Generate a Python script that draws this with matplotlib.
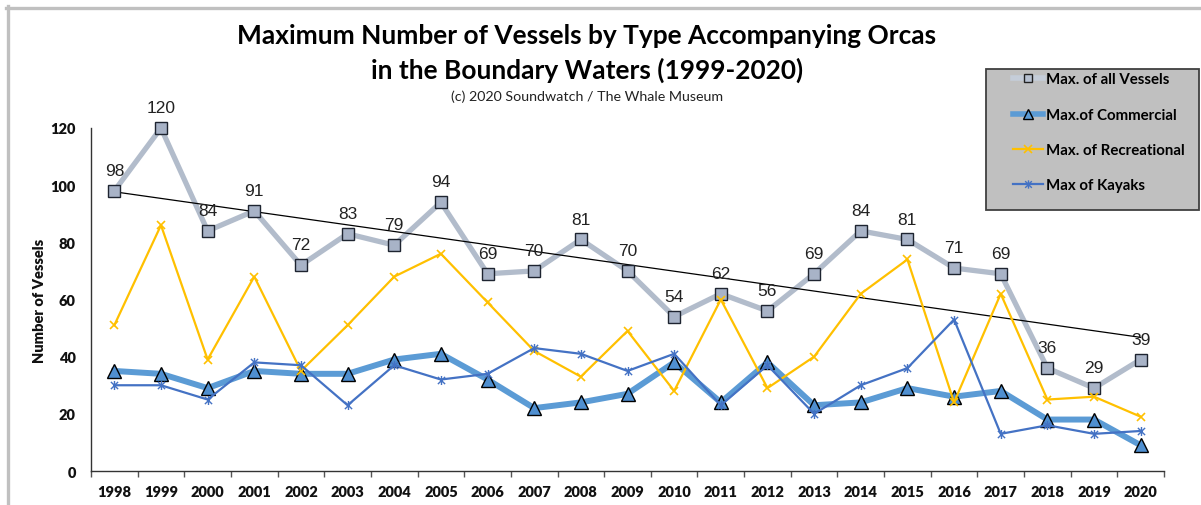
import numpy as np
import matplotlib
matplotlib.use('Agg')
import matplotlib.pyplot as plt
from matplotlib.path import Path
from matplotlib.lines import Line2D
from matplotlib.patches import Rectangle

years = [str(y) for y in range(1998, 2021)]
all_vessels = [98, 120, 84, 91, 72, 83, 79, 94, 69, 70, 81, 70, 54, 62, 56, 69, 84, 81, 71, 69, 36, 29, 39]
commercial = [35, 34, 29, 35, 34, 34, 39, 41, 32, 22, 24, 27, 38, 24, 38, 23, 24, 29, 26, 28, 18, 18, 9]
recreational = [51, 86, 39, 68, 35, 51, 68, 76, 59, 42, 33, 49, 28, 60, 29, 40, 62, 74, 24, 62, 25, 26, 19]
kayaks = [30, 30, 25, 38, 37, 23, 37, 32, 34, 43, 41, 35, 41, 23, 37, 20, 30, 36, 53, 13, 16, 13, 14]

labels = ['Max. of all Vessels', 'Max.of Commercial', 'Max. of Recreational', 'Max of Kayaks']

calibri = ['Lato', 'DejaVu Sans']
W, H = 1201, 506

# excel style "star" marker: an x plus a vertical bar
star = Path([(-1, -1), (1, 1), (-1, 1), (1, -1), (0, -1.25), (0, 1.25)],
            [Path.MOVETO, Path.LINETO, Path.MOVETO, Path.LINETO, Path.MOVETO, Path.LINETO])

fig = plt.figure(figsize=(W / 100, H / 100), dpi=100)
ax = fig.add_axes([91 / W, 1 - 472 / H, (1164 - 91) / W, (472 - 129) / H])

x = np.arange(len(years))

# all vessels: line, trend, then markers on top
ax.plot(x, all_vessels, color='#b2bccb', lw=3.8, zorder=2, solid_joinstyle='round', clip_on=False)
k, b = np.polyfit(x, all_vessels, 1)
ax.plot([x[0], x[-1]], [k * x[0] + b, k * x[-1] + b], color='black', lw=0.9, zorder=2.5)
ax.plot(x, all_vessels, ls='none', marker='s', ms=8.5, mfc='#a8b3c7', mec='#1e2430', mew=1.0,
        zorder=2.6, clip_on=False)

ax.plot(x, commercial, color='#5b9bd5', lw=4.3, marker='^', ms=10.5, mfc='#4f8fd0', mec='black',
        mew=1.0, zorder=3, solid_joinstyle='round', clip_on=False)
ax.plot(x, recreational, color='#ffc000', lw=1.6, marker='x', ms=6, mew=1.2, zorder=4)
ax.plot(x, kayaks, color='#4472c4', lw=1.6, marker=star, ms=6.5, mew=1.0, zorder=5)

for xi, v in zip(x, all_vessels):
    ax.annotate(str(v), (xi, v), xytext=(0, 11.5), textcoords='offset points', ha='center',
                va='baseline', fontsize=12.5, family='Liberation Sans', color='#222222', zorder=6)

ax.set_xlim(-0.5, len(years) - 0.5)
ax.set_ylim(0, 120)
ax.set_yticks(range(0, 121, 20))
ax.set_xticks(x)
ax.set_xticklabels(years)
ax.set_xticks(np.arange(-0.5, len(years), 1), minor=True)
ax.tick_params(axis='x', which='major', length=0, pad=10)
ax.tick_params(axis='x', which='minor', length=4, width=1, color='#555555', direction='out')
ax.tick_params(axis='y', length=0, pad=11)
for lab in ax.get_xticklabels() + ax.get_yticklabels():
    lab.set_family(calibri)
    lab.set_fontweight('heavy')
    lab.set_fontsize(10.5)
    lab.set_color('#111111')

for s in ['top', 'right']:
    ax.spines[s].set_visible(False)
for s in ['left', 'bottom']:
    ax.spines[s].set_color('#333333')
    ax.spines[s].set_linewidth(1.0)

ax.set_ylabel('Number of Vessels', family=calibri, fontweight='heavy', fontsize=10.5, color='#111111')
ax.yaxis.set_label_coords(-0.042, 0.5)

fig.text(587 / W, 1 - 44 / H, 'Maximum Number of Vessels by Type Accompanying Orcas', ha='center',
         va='baseline', family=calibri, fontweight='bold', fontsize=18.9)
fig.text(587 / W, 1 - 78.5 / H, 'in the Boundary Waters (1999-2020)', ha='center',
         va='baseline', family=calibri, fontweight='bold', fontsize=18.9)
fig.text(587 / W, 1 - 97 / H, '(c) 2020 Soundwatch / The Whale Museum', ha='center',
         va='center', family=calibri, fontsize=10.3, color='#222222')

# legend box drawn separately (Excel leaves space at the bottom)
fig.patches.append(Rectangle((986 / W, 1 - 211 / H), (1199 - 986) / W, (211 - 70) / H,
                             transform=fig.transFigure, facecolor='#c0c0c0', edgecolor='#404040',
                             lw=1.3, zorder=1))
handles = [
    Line2D([], [], color='#c5cdd9', lw=4, marker='s', ms=6, mfc='#b8c2d2', mec='#222222', mew=1.0),
    Line2D([], [], color='#5b9bd5', lw=4, marker='^', ms=7, mfc='#5b9bd5', mec='black', mew=1.0),
    Line2D([], [], color='#ffc000', lw=1.6, marker='x', ms=6, mew=1.2),
    Line2D([], [], color='#4472c4', lw=1.6, marker=star, ms=6, mew=1.0),
]
leg = fig.legend(handles, labels, loc='upper left', bbox_to_anchor=(1005 / W, 1 - 66 / H),
                 frameon=False, borderpad=0, handlelength=2.05, handletextpad=0.15,
                 labelspacing=1.42, prop={'family': calibri, 'weight': 'bold', 'size': 10.8})
leg.set_zorder(3)

# grey outer frame, cut at the right and bottom like the screenshot
fig.add_artist(Line2D([6 / W, 1], [1 - 8.5 / H, 1 - 8.5 / H], transform=fig.transFigure,
                      color='#c0c0c0', lw=2.4))
fig.add_artist(Line2D([7.5 / W, 7.5 / W], [0, 1 - 7 / H], transform=fig.transFigure,
                      color='#c0c0c0', lw=2.4))

fig.savefig('out.png', dpi=100)
